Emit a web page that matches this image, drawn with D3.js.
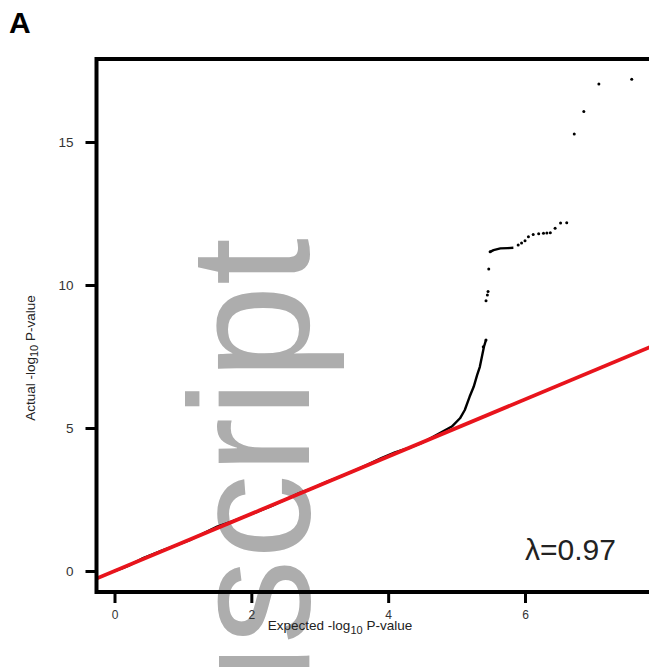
<!DOCTYPE html>
<html>
<head>
<meta charset="utf-8">
<script src="https://cdn.jsdelivr.net/npm/d3@7"></script>
<style>
  html, body { margin: 0; padding: 0; background: #fff; }
  svg { display: block; font-family: "Liberation Sans", Arial, sans-serif; }
</style>
</head>
<body>
<svg id="chart" width="649" height="667"></svg>
<script>
// dense part of the QQ trace (thousands of overlapping points -> reads as a line)
// null splits the two runs
const traceExpected = [0, 0.1, 0.2, 0.3, 0.4, 0.5, 0.7, 0.9, 1.1, 1.3, 1.5, 1.7, 1.9, 2.1, 2.3, 2.5, 2.7, 2.9,
  3.1, 3.3, 3.5, 3.7, 3.9, 4.1, 4.3, 4.51, 4.69, 4.83, 4.93, 5.05, 5.12, 5.19, 5.25, 5.3, 5.34, 5.37, 5.4, 5.43,
  null, 5.49, 5.54, 5.64, 5.75, 5.83];
const traceObserved = [0, 0.08, 0.18, 0.3, 0.43, 0.53, 0.72, 0.9, 1.08, 1.32, 1.55, 1.72, 1.9, 2.08, 2.28, 2.5, 2.72, 2.9,
  3.12, 3.3, 3.5, 3.72, 3.95, 4.15, 4.3, 4.5, 4.74, 4.92, 5.05, 5.34, 5.63, 6.09, 6.44, 6.85, 7.14, 7.49, 7.84, 8.08,
  null, 11.16, 11.22, 11.28, 11.29, 11.3];

// individually visible points in the tail
const pointExpected = [5.39, 5.43, 5.43, 5.45, 5.46, 5.47, 5.49, 5.9, 5.95, 6.0, 6.05, 6.12, 6.2, 6.27, 6.32, 6.37,
  6.44, 6.52, 6.61, 6.72, 6.86, 7.08, 7.56];
const pointObserved = [7.84, 8.08, 9.45, 9.65, 9.77, 10.56, 11.16, 11.4, 11.47, 11.55, 11.69, 11.77, 11.79, 11.81, 11.82, 11.83,
  11.98, 12.17, 12.18, 15.28, 16.07, 17.03, 17.19];

const xTicks = [0, 2, 4, 6];
const yTicks = [0, 5, 10, 15];
const lambdaLabel = 'λ=0.97';

const svg = d3.select('#chart');

// watermark from the source pdf, sits under everything
svg.append('text')
  .attr('transform', 'translate(309,238) rotate(-90)')
  .attr('text-anchor', 'end')
  .style('font-size', '170px')
  .style('fill', '#adadad')
  .text('nuscript');

svg.append('text')
  .attr('x', 9).attr('y', 33)
  .style('font-size', '30px').style('font-weight', 'bold')
  .text('A');

const x = d3.scaleLinear().domain([0, 6]).range([114.5, 525]);
const y = d3.scaleLinear().domain([0, 15]).range([571, 142]);

const frame = { left: 96.5, right: 652, top: 59, bottom: 592 };

svg.append('clipPath').attr('id', 'plotclip')
  .append('rect')
  .attr('x', frame.left).attr('y', frame.top)
  .attr('width', frame.right - frame.left).attr('height', frame.bottom - frame.top);

// axes
const yAxis = svg.append('g')
  .attr('transform', `translate(${frame.left},0)`)
  .call(d3.axisLeft(y).tickValues(yTicks).tickFormat(d3.format('d'))
    .tickSize(11).tickSizeOuter(0).tickPadding(12));
const xAxis = svg.append('g')
  .attr('transform', `translate(0,${frame.bottom})`)
  .call(d3.axisBottom(x).tickValues(xTicks).tickFormat(d3.format('d'))
    .tickSize(11).tickSizeOuter(0).tickPadding(7));

[xAxis, yAxis].forEach(g => {
  g.select('.domain').remove();
  g.selectAll('.tick line').attr('stroke', '#000').attr('stroke-width', 3);
  g.selectAll('.tick text').style('fill', '#333')
    .style('font-family', '"Liberation Sans", Arial, sans-serif');
});
yAxis.selectAll('.tick text').style('font-size', '13.5px');
xAxis.selectAll('.tick text').style('font-size', '12px');

const plot = svg.append('g').attr('clip-path', 'url(#plotclip)');

// black trace
const line = d3.line()
  .defined((d, i) => traceExpected[i] !== null)
  .x((d, i) => x(traceExpected[i]))
  .y((d, i) => y(traceObserved[i]));
plot.append('path')
  .datum(traceExpected)
  .attr('d', line)
  .attr('fill', 'none')
  .attr('stroke', '#000')
  .attr('stroke-width', 2.4)
  .attr('stroke-linejoin', 'round');

plot.selectAll('.pt')
  .data(pointExpected)
  .enter()
  .append('circle')
  .attr('class', 'pt')
  .attr('cx', d => x(d))
  .attr('cy', (d, i) => y(pointObserved[i]))
  .attr('r', 1.5)
  .attr('fill', '#000');

// y = x reference
const lo = x.invert(frame.left), hi = x.invert(frame.right);
plot.append('line')
  .attr('x1', x(lo)).attr('y1', y(lo))
  .attr('x2', x(hi)).attr('y2', y(hi))
  .attr('stroke', '#e8141c')
  .attr('stroke-width', 3.8);

// frame
svg.append('rect')
  .attr('x', frame.left).attr('y', frame.top)
  .attr('width', frame.right - frame.left).attr('height', frame.bottom - frame.top)
  .attr('fill', 'none')
  .attr('stroke', '#000')
  .attr('stroke-width', 4);

svg.append('text')
  .attr('x', 525).attr('y', 560)
  .style('font-size', '30px').style('fill', '#222')
  .text(lambdaLabel);

// axis titles
const xTitle = svg.append('text')
  .attr('x', 340).attr('y', 630)
  .attr('text-anchor', 'middle')
  .style('font-size', '13.5px').style('fill', '#222');
xTitle.append('tspan').text('Expected -log');
xTitle.append('tspan').attr('dy', 4).style('font-size', '11px').text('10');
xTitle.append('tspan').attr('dy', -4).text(' P-value');

const yTitle = svg.append('text')
  .attr('transform', 'translate(35,358) rotate(-90)')
  .attr('text-anchor', 'middle')
  .style('font-size', '13.5px').style('fill', '#222');
yTitle.append('tspan').text('Actual -log');
yTitle.append('tspan').attr('dy', 3).style('font-size', '11px').text('10');
yTitle.append('tspan').attr('dy', -3).text(' P-value');
</script>
</body>
</html>
